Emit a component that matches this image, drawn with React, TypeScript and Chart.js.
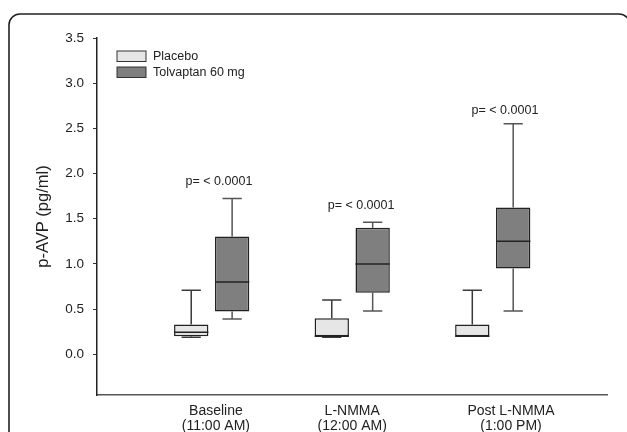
import React, { useEffect, useRef } from "react";
import { Chart, registerables } from "chart.js";

Chart.register(...registerables);

// ---------- data ----------
const categories: string[][] = [
  ["Baseline", "(11:00 AM)"],
  ["L-NMMA", "(12:00 AM)"],
  ["Post L-NMMA", "(1:00 PM)"],
];
const groupPositions = [1, 2, 3];
const labelAnchors = [1.03, 2.0, 3.13];
const seriesNames = ["Placebo", "Tolvaptan 60 mg"];

const placeboMin = [0.19, 0.19, 0.2];
const placeboQ1 = [0.2, 0.2, 0.2];
const placeboMedian = [0.245, 0.2, 0.2];
const placeboQ3 = [0.33, 0.4, 0.33];
const placeboMax = [0.71, 0.6, 0.71];

const tolvMin = [0.39, 0.48, 0.48];
const tolvQ1 = [0.475, 0.68, 0.95];
const tolvMedian = [0.8, 1.0, 1.25];
const tolvQ3 = [1.305, 1.4, 1.625];
const tolvMax = [1.725, 1.46, 2.55];

const pLabels = ["p= < 0.0001", "p= < 0.0001", "p= < 0.0001"];
const pLabelX = [1.052, 2.063, 3.087];
const pLabelY = [1.916, 1.645, 2.7];

const yTicks = [0, 0.5, 1.0, 1.5, 2.0, 2.5, 3.0, 3.5];
const yMin = -0.45;
const yMax = 3.5;
const xMin = 0.184;
const xMax = 3.813;

const FONT = "'Liberation Sans', Arial, Helvetica, sans-serif";

const boxPlugin = {
  id: "boxWhiskers",
  beforeDatasetsDraw(chart: any) {
    const ctx = chart.ctx;
    const y = chart.scales.y;
    chart.data.datasets.forEach((ds: any, d: number) => {
      const meta = chart.getDatasetMeta(d);
      meta.data.forEach((el: any, i: number) => {
        const { x, width } = el.getProps(["x", "width"], true);
        const cap = width * 0.28;
        ctx.save();
        ctx.strokeStyle = ds.whiskerColor;
        ctx.lineWidth = 1.5;
        const yq3 = y.getPixelForValue(ds.q3[i]);
        const yMaxP = y.getPixelForValue(ds.max[i]);
        const yq1 = y.getPixelForValue(ds.q1[i]);
        const yMinP = y.getPixelForValue(ds.min[i]);
        ctx.beginPath();
        ctx.moveTo(x, yq3);
        ctx.lineTo(x, yMaxP);
        ctx.moveTo(x - cap, yMaxP);
        ctx.lineTo(x + cap, yMaxP);
        ctx.moveTo(x, yq1);
        ctx.lineTo(x, yMinP);
        ctx.moveTo(x - cap, yMinP);
        ctx.lineTo(x + cap, yMinP);
        ctx.stroke();
        ctx.restore();
      });
    });
  },
  afterDatasetsDraw(chart: any) {
    const ctx = chart.ctx;
    const y = chart.scales.y;
    chart.data.datasets.forEach((ds: any, d: number) => {
      const meta = chart.getDatasetMeta(d);
      meta.data.forEach((el: any, i: number) => {
        const { x, width } = el.getProps(["x", "width"], true);
        const ym = y.getPixelForValue(ds.median[i]);
        ctx.save();
        ctx.strokeStyle = "#222";
        ctx.lineWidth = 1.5;
        ctx.beginPath();
        ctx.moveTo(x - width / 2, ym);
        ctx.lineTo(x + width / 2, ym);
        ctx.stroke();
        ctx.restore();
      });
    });
  },
  afterDraw(chart: any) {
    const ctx = chart.ctx;
    const xs = chart.scales.x;
    const ys = chart.scales.y;
    const area = chart.chartArea;
    ctx.save();
    // p-value annotations
    ctx.fillStyle = "#222";
    ctx.font = `12.5px ${FONT}`;
    ctx.textAlign = "center";
    ctx.textBaseline = "middle";
    pLabels.forEach((t, i) => {
      ctx.fillText(t, xs.getPixelForValue(pLabelX[i]), ys.getPixelForValue(pLabelY[i]));
    });
    // legend
    chart.data.datasets.forEach((ds: any, d: number) => {
      const bx = area.left + 20;
      const by = area.top + 13 + d * 16;
      ctx.fillStyle = ds.backgroundColor;
      ctx.fillRect(bx, by, 29, 10.5);
      ctx.strokeStyle = "#333";
      ctx.lineWidth = 1;
      ctx.strokeRect(bx, by, 29, 10.5);
      ctx.fillStyle = "#222";
      ctx.textAlign = "left";
      ctx.fillText(ds.label, bx + 36, by + 5.5);
    });
    // outer rounded frame
    ctx.strokeStyle = "#222";
    ctx.lineWidth = 1.6;
    ctx.beginPath();
    (ctx as any).roundRect(9, 14, 621, 440, 11);
    ctx.stroke();
    ctx.restore();
  },
};

export default function App() {
  const ref = useRef<HTMLCanvasElement>(null);
  useEffect(() => {
    if (!ref.current) return;
    Chart.defaults.font.family = FONT;
    const chart = new Chart(ref.current, {
      type: "bar",
      data: {
        datasets: [
          {
            label: seriesNames[0],
            data: groupPositions.map((g, i) => ({ x: g, y: [placeboQ1[i], placeboQ3[i]] })) as any,
            backgroundColor: "#e6e6e6",
            borderColor: "#222",
            borderWidth: 1.5,
            borderSkipped: false,
            categoryPercentage: 0.6,
            barPercentage: 0.84,
            min: placeboMin,
            q1: placeboQ1,
            median: placeboMedian,
            q3: placeboQ3,
            max: placeboMax,
            whiskerColor: "#3a3a3a",
          } as any,
          {
            label: seriesNames[1],
            data: groupPositions.map((g, i) => ({ x: g, y: [tolvQ1[i], tolvQ3[i]] })) as any,
            backgroundColor: "#7f7f7f",
            borderColor: "#222",
            borderWidth: 1.5,
            borderSkipped: false,
            categoryPercentage: 0.6,
            barPercentage: 0.84,
            min: tolvMin,
            q1: tolvQ1,
            median: tolvMedian,
            q3: tolvQ3,
            max: tolvMax,
            whiskerColor: "#555",
          } as any,
        ],
      },
      options: {
        animation: false,
        responsive: false,
        layout: { padding: { top: 38, right: 20, left: 0, bottom: 0 } },
        plugins: {
          legend: { display: false },
          tooltip: { enabled: false },
        },
        scales: {
          x: {
            type: "linear",
            min: xMin,
            max: xMax,
            offset: false,
            grid: { display: false, drawTicks: false },
            border: { display: true, color: "#555", width: 1.5 },
            afterBuildTicks: (s: any) => {
              s.ticks = labelAnchors.map((v) => ({ value: v }));
            },
            afterFit: (s: any) => {
              s.height = 37;
            },
            ticks: {
              autoSkip: false,
              maxRotation: 0,
              minRotation: 0,
              padding: 8,
              color: "#222",
              font: { size: 14, lineHeight: 1.1 },
              callback: (_v: any, i: number) => categories[i],
            },
          },
          y: {
            type: "linear",
            min: yMin,
            max: yMax,
            afterBuildTicks: (s: any) => {
              s.ticks = yTicks.map((v) => ({ value: v }));
            },
            afterFit: (s: any) => {
              s.width = 97;
            },
            grid: { drawOnChartArea: false, drawTicks: true, tickLength: 4, color: "#333" },
            border: { display: true, color: "#222", width: 1.5 },
            ticks: {
              padding: 9,
              color: "#222",
              font: { size: 13.5 },
              callback: (v: any) => Number(v).toFixed(1),
            },
            title: {
              display: true,
              text: "p-AVP (pg/ml)",
              color: "#222",
              font: { size: 16.5 },
              padding: { top: 34, bottom: 0 },
            },
          },
        },
      } as any,
      plugins: [boxPlugin],
    });
    return () => chart.destroy();
  }, []);
  return (
    <div style={{ position: "fixed", left: 0, top: 0, width: 627, height: 432, background: "#fff" }}>
      <canvas ref={ref} width={627} height={432} style={{ display: "block" }} />
    </div>
  );
}
